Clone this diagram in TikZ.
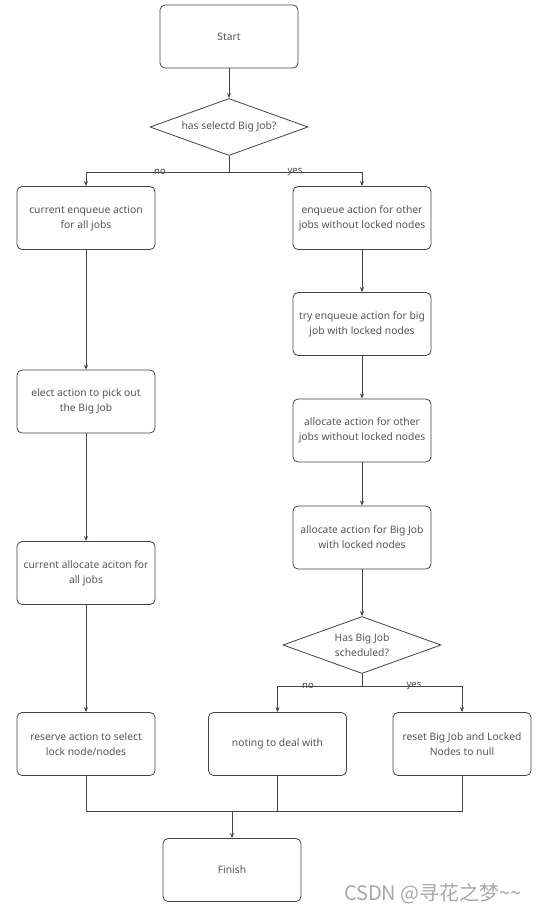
\documentclass[tikz,border=0pt]{standalone}
\usepackage{fontspec}
\setmainfont{Noto Sans}
\newfontfamily\cjk{Noto Sans CJK SC}
\usetikzlibrary{shapes.geometric,arrows.meta}
\definecolor{ln}{HTML}{444444}
\definecolor{tx}{HTML}{555555}
\definecolor{wm}{HTML}{A8A8A8}
\tikzset{
  stepbox/.style={draw=ln, line width=0.8pt, rounded corners=5pt, minimum width=138pt, minimum height=63pt, align=center, text=tx, font=\fontsize{10.3}{15}\selectfont, inner sep=1pt},
  decision/.style={draw=ln, line width=0.8pt, diamond, aspect=2.77, minimum width=158pt, minimum height=57pt, inner sep=0pt, align=center, text=tx, font=\fontsize{10.3}{15}\selectfont},
  conn/.style={draw=ln, line width=0.8pt},
  arr/.style={conn, -{Stealth[length=5pt,width=4pt]}},
  lbl/.style={text=ln, font=\fontsize{9.5}{10}\selectfont, inner sep=0pt}
}
\begin{document}
\begin{tikzpicture}[x=1pt,y=-1pt]
\useasboundingbox[fill=white] (0,0) rectangle (540,914);
\node[stepbox] (start) at (229,36.5) {Start};
\node[decision] (d1) at (229,127) {has selectd Big Job?};
\node[stepbox] (l1) at (86,218) {current enqueue action\\for all jobs};
\node[stepbox] (l2) at (86,401.5) {elect action to pick out\\the Big Job};
\node[stepbox] (l3) at (86,573) {current allocate aciton for\\all jobs};
\node[stepbox] (l4) at (86,744) {reserve action to select\\lock node/nodes};
\node[stepbox] (r1) at (362,218) {enqueue action for other\\jobs without locked nodes};
\node[stepbox] (r2) at (362,324) {try enqueue action for big\\job with locked nodes};
\node[stepbox] (r3) at (362,430.5) {allocate action for other\\jobs without locked nodes};
\node[stepbox] (r4) at (362,537.5) {allocate action for Big Job\\with locked nodes};
\node[decision] (d2) at (362,645) {Has Big Job\\scheduled?};
\node[stepbox] (m5) at (277.5,744) {noting to deal with};
\node[stepbox] (r5) at (462,744) {reset Big Job and Locked\\Nodes to null};
\node[stepbox] (fin) at (232,870) {Finish};
\coordinate (b1) at (229,172);
\coordinate (b2) at (362,686);
\coordinate (mL) at (86,811);
\coordinate (mR) at (462,811);
\coordinate (mM) at (277.5,811);
\coordinate (mF) at (232,811);
\draw[arr] (start) -- (d1);
\draw[conn] (d1.south) -- (b1);
\draw[arr] (b1) -| (l1.north);
\draw[arr] (b1) -| (r1.north);
\node[lbl] (no1) at (160,172) {no};
\node[lbl] (yes1) at (295,172) {yes};
\draw[arr] (l1) -- (l2);
\draw[arr] (l2) -- (l3);
\draw[arr] (l3) -- (l4);
\draw[arr] (r1) -- (r2);
\draw[arr] (r2) -- (r3);
\draw[arr] (r3) -- (r4);
\draw[arr] (r4) -- (d2);
\draw[conn] (d2.south) -- (b2);
\draw[arr] (b2) -| (m5.north);
\draw[arr] (b2) -| (r5.north);
\node[lbl] (no2) at (308,686) {no};
\node[lbl] (yes2) at (414,686) {yes};
\draw[conn] (l4.south) -- (mL) -- (mR) -- (r5.south);
\draw[conn] (m5.south) -- (mM);
\draw[arr] (mF) -- (fin.north);
\node[text=wm, font=\cjk\fontsize{20}{22}\selectfont, inner sep=0pt] (wmk) at (433,894) {CSDN @寻花之梦\textasciitilde\textasciitilde};
\end{tikzpicture}
\end{document}
